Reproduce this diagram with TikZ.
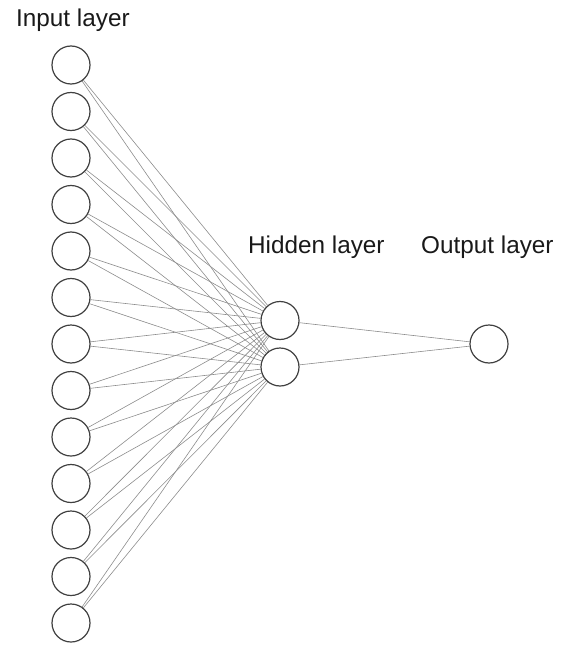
\documentclass[tikz,border=0pt]{standalone}
\usepackage{fontspec}
\setmainfont{Liberation Sans}
\begin{document}
\begin{tikzpicture}[x=1pt, y=-1pt, every node/.style={font=\fontsize{24.3}{29}\selectfont}]
        \pgfdeclarelayer{nodelayer}
        \pgfdeclarelayer{edgelayer}
        \pgfsetlayers{edgelayer,nodelayer}
        \tikzstyle{label}=[fill=none, draw=none, inner sep=0pt, anchor=base west, text=black!90]
        \tikzstyle{neuron}=[inner sep=0pt, minimum size=38pt, fill=white, draw=black!75, line width=1.2pt, shape=circle]
        \tikzstyle{weight}=[draw=black!45, line width=0.6pt]
        \useasboundingbox (0,0) rectangle (576,650);
        \begin{pgfonlayer}{nodelayer}
            \node [style=neuron] (i1) at (71, 65) {};
            \node [style=neuron] (i2) at (71, 111.5) {};
            \node [style=neuron] (i3) at (71, 158) {};
            \node [style=neuron] (i4) at (71, 204.5) {};
            \node [style=neuron] (i5) at (71, 251) {};
            \node [style=neuron] (i6) at (71, 297.5) {};
            \node [style=neuron] (i7) at (71, 344) {};
            \node [style=neuron] (i8) at (71, 390.5) {};
            \node [style=neuron] (i9) at (71, 437) {};
            \node [style=neuron] (i10) at (71, 483.5) {};
            \node [style=neuron] (i11) at (71, 530) {};
            \node [style=neuron] (i12) at (71, 576.5) {};
            \node [style=neuron] (i13) at (71, 623) {};
            \node [style=neuron] (h1) at (280, 320.5) {};
            \node [style=neuron] (h2) at (280, 367) {};
            \node [style=neuron] (o1) at (489, 344) {};

            \node [style=label] (inlabel) at (16, 27) {Input layer};
            \node [style=label] (hidlabel) at (248, 253) {Hidden layer};
            \node [style=label] (outlabel) at (421, 253) {Output layer};
        \end{pgfonlayer}
        \begin{pgfonlayer}{edgelayer}
            % input -> hidden
            \foreach \n in {1,...,13}
            {
                \draw [style=weight] (i\n) to (h1);
                \draw [style=weight] (i\n) to (h2);
            }
            % hidden -> output
            \draw [style=weight] (h1) to (o1);
            \draw [style=weight] (h2) to (o1);
        \end{pgfonlayer}
    \end{tikzpicture}
\end{document}
